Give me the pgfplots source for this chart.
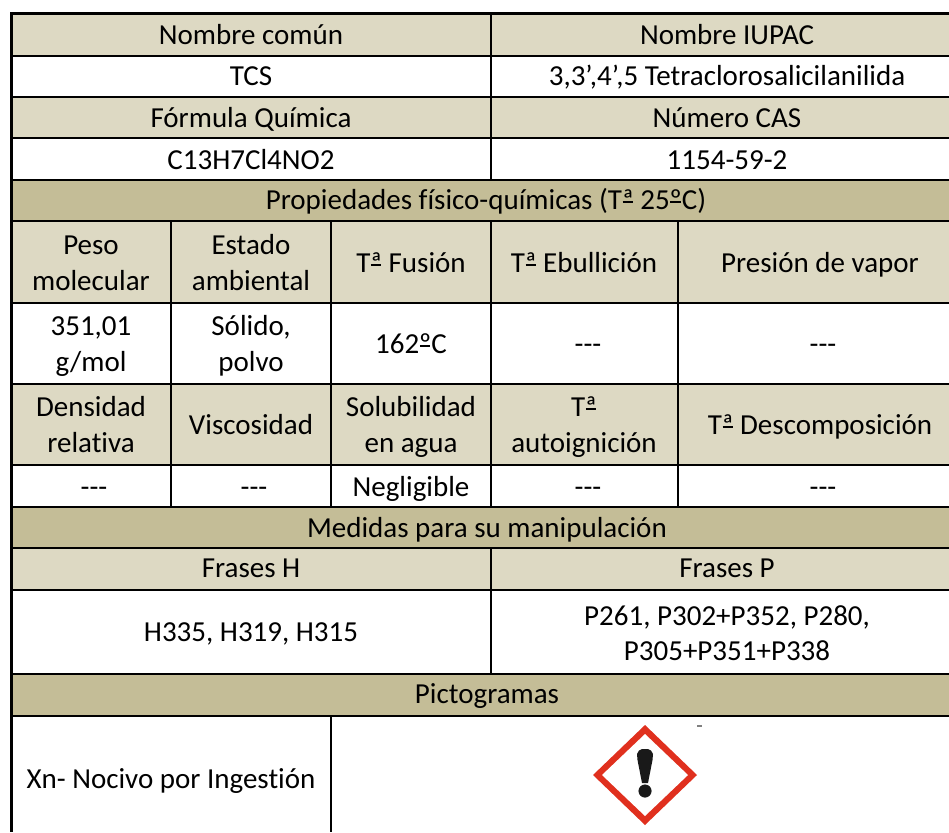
\documentclass[border=0pt]{standalone}
\usepackage{pgfplots}
\pgfplotsset{compat=1.18}
\usepackage{fontspec}
\setmainfont[Ligatures=NoCommon]{Carlito}
\definecolor{lt}{HTML}{DDD9C3}
\definecolor{tn}{HTML}{C4BD97}
\definecolor{rd}{HTML}{E0301E}
\newcommand{\R}[5]{\addplot[fill=#5,draw=none,forget plot] coordinates {(#1,#2)(#3,#2)(#3,#4)(#1,#4)} -- cycle;}
\newcommand{\HL}[4][2pt]{\addplot[black,line width=#1,forget plot] coordinates {(#2,#4)(#3,#4)};}
\newcommand{\VL}[4][2pt]{\addplot[black,line width=#1,forget plot] coordinates {(#4,#2)(#4,#3)};}
\newcommand{\T}[3]{\node[anchor=base,inner sep=0pt,font=\fontsize{29}{29}\selectfont] at (axis cs:#1,#2) {#3};}
\newcommand{\oa}{\rlap{\kern0.02em\rule[0.215em]{0.36em}{0.05em}}ª}
\newcommand{\oo}{\rlap{\kern0.02em\rule[0.215em]{0.36em}{0.05em}}º}
\begin{document}
\begin{tikzpicture}[x=1pt,y=1pt]
\path[use as bounding box] (0,0) rectangle (949pt,832pt);
\begin{axis}[
  at={(0,0)},anchor=south west,
  scale only axis,width=949pt,height=832pt,
  xmin=0,xmax=949,ymin=0,ymax=832,y dir=reverse,
  hide axis,clip=true,
  every axis plot/.append style={mark=none}]
% fills
\R{11}{13}{949}{56}{lt}
\R{11}{97}{949}{138}{lt}
\R{11}{180}{949}{221}{tn}
\R{11}{221}{949}{303}{lt}
\R{11}{384}{949}{465}{lt}
\R{11}{507}{949}{548}{tn}
\R{11}{548}{949}{590}{lt}
\R{11}{674}{949}{716}{tn}
% horizontal rules
\HL[3pt]{10}{949}{14}
\HL{11}{949}{56}
\HL{11}{949}{97}
\HL{11}{949}{138}
\HL{11}{949}{180}
\HL{11}{949}{221}
\HL{11}{949}{303}
\HL{11}{949}{384}
\HL{11}{949}{465}
\HL{11}{949}{507}
\HL{11}{949}{548}
\HL{11}{949}{590}
\HL{11}{949}{674}
\HL{11}{949}{716}
% vertical rules
\VL[3pt]{13}{832}{11}
\VL{13}{180}{491}
\VL{221}{507}{171}
\VL{221}{507}{331}
\VL{221}{507}{491}
\VL{221}{507}{678}
\VL{548}{674}{491}
\VL{716}{832}{331}
% pictogram
\addplot[fill=rd,draw=none,forget plot] coordinates {(645,725)(697,775)(645,825)(593,775)} -- cycle;
\addplot[fill=white,draw=none,forget plot] coordinates {(645,734)(688,775)(645,816)(602,775)} -- cycle;
\addplot[fill=black!90,draw=none,forget plot] coordinates {(637,754)(639,750.5)(642,749)(648,749)(651,750.5)(653,754)(652.5,760)(648,783)(642,783)(637.5,760)} -- cycle;
\addplot[only marks,mark=*,mark size=6.3pt,black!90,forget plot] coordinates {(645,791)};
\addplot[fill=black!50,draw=none,forget plot] coordinates {(697,725)(702,725)(702,727)(697,727)} -- cycle;
% text
\T{251}{45}{Nombre común}
\T{727}{45}{Nombre IUPAC}
\T{251}{86}{TCS}
\T{727}{86}{3,3’,4’,5 Tetraclorosalicilanilida}
\T{251}{128}{Fórmula Química}
\T{727}{128}{Número CAS}
\T{251}{169}{C13H7Cl4NO2}
\T{727}{169}{1154-59-2}
\T{486}{209}{Propiedades físico-químicas (T\oa{} 25\oo{}C)}
\T{91}{254}{Peso}
\T{91}{290}{molecular}
\T{251}{254}{Estado}
\T{251}{290}{ambiental}
\T{411}{272}{T\oa{} Fusión}
\T{584}{272}{T\oa{} Ebullición}
\T{820}{272}{Presión de vapor}
\T{91}{335}{351,01}
\T{91}{371}{g/mol}
\T{251}{335}{Sólido,}
\T{251}{371}{polvo}
\T{411}{353}{162\oo{}C}
\T{588}{353}{{-}{-}{-}}
\T{823}{353}{{-}{-}{-}}
\T{91}{416}{Densidad}
\T{91}{452}{relativa}
\T{251}{434}{Viscosidad}
\T{411}{416}{Solubilidad}
\T{411}{452}{en agua}
\T{584}{416}{T\oa}
\T{584}{452}{autoignición}
\T{820}{434}{T\oa{} Descomposición}
\T{94}{496}{{-}{-}{-}}
\T{254}{496}{{-}{-}{-}}
\T{411}{496}{Negligible}
\T{588}{496}{{-}{-}{-}}
\T{823}{496}{{-}{-}{-}}
\T{487}{537}{Medidas para su manipulación}
\T{251}{577}{Frases H}
\T{727}{577}{Frases P}
\T{251}{641}{H335, H319, H315}
\T{727}{625}{P261, P302+P352, P280,}
\T{727}{660}{P305+P351+P338}
\T{487}{703}{Pictogramas}
\T{171}{788}{Xn- Nocivo por Ingestión}
\end{axis}
\end{tikzpicture}
\end{document}
